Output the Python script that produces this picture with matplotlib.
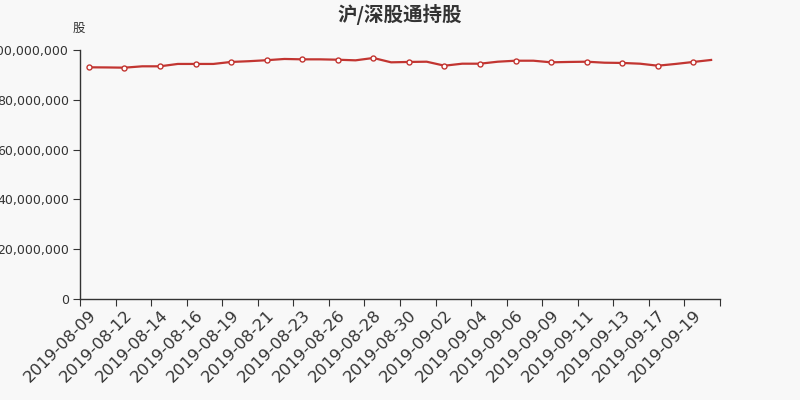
import matplotlib
matplotlib.use("Agg")
import matplotlib.pyplot as plt
from matplotlib.ticker import FuncFormatter

# trading dates (every category), labels shown on every other one
dates = ['2019-08-09', '2019-08-11', '2019-08-12', '2019-08-13', '2019-08-14', '2019-08-15',
         '2019-08-16', '2019-08-18', '2019-08-19', '2019-08-20', '2019-08-21', '2019-08-22',
         '2019-08-23', '2019-08-25', '2019-08-26', '2019-08-27', '2019-08-28', '2019-08-29',
         '2019-08-30', '2019-09-01', '2019-09-02', '2019-09-03', '2019-09-04', '2019-09-05',
         '2019-09-06', '2019-09-08', '2019-09-09', '2019-09-10', '2019-09-11', '2019-09-12',
         '2019-09-13', '2019-09-16', '2019-09-17', '2019-09-18', '2019-09-19', '2019-09-20']

# holdings in shares
holdings = [93.05e6, 93.0e6, 92.9e6, 93.45e6, 93.45e6, 94.4e6,
            94.4e6, 94.4e6, 95.2e6, 95.5e6, 95.9e6, 96.4e6,
            96.25e6, 96.25e6, 96.1e6, 95.85e6, 96.8e6, 95.05e6,
            95.2e6, 95.3e6, 93.7e6, 94.5e6, 94.5e6, 95.3e6,
            95.7e6, 95.7e6, 95.05e6, 95.2e6, 95.3e6, 94.9e6,
            94.8e6, 94.5e6, 93.7e6, 94.4e6, 95.2e6, 96.0e6]

bg = '#f8f8f8'
txt = '#333333'
red = '#c23531'

fig = plt.figure(figsize=(8, 4), dpi=100, facecolor=bg)
ax = fig.add_axes([0.1, 0.2525, 0.8, 0.6225], facecolor=bg)

x = list(range(len(dates)))
ax.plot(x, holdings, color=red, linewidth=1.6, marker='o', markevery=2,
        markersize=3.6, markerfacecolor='white', markeredgecolor=red, markeredgewidth=1)

ax.set_xlim(-0.5, len(dates) - 0.5)
ax.set_ylim(0, 100e6)
ax.set_yticks([0, 20e6, 40e6, 60e6, 80e6, 100e6])
ax.yaxis.set_major_formatter(FuncFormatter(lambda v, p: f'{int(v):,}'))

# ticks on category boundaries, labels on category centres
ax.set_xticks([i - 0.5 for i in range(0, len(dates) + 1, 2)])
ax.set_xticklabels([])
ax.set_xticks(x[::2], minor=True)
ax.set_xticklabels(dates[::2], minor=True, rotation=45, ha='right',
                   rotation_mode='anchor', fontsize=11.8, color=txt)
ax.tick_params(axis='x', which='minor', length=0, pad=6)
ax.tick_params(axis='x', which='major', length=5, color=txt)
ax.tick_params(axis='y', length=5, color=txt, labelsize=9, labelcolor=txt, pad=3)

for s in ['top', 'right']:
    ax.spines[s].set_visible(False)
for s in ['left', 'bottom']:
    ax.spines[s].set_color(txt)
    ax.spines[s].set_linewidth(1)

fig.text(0.5, 0.965, '沪/深股通持股', ha='center', va='center', fontsize=14,
         fontweight='bold', color=txt, family=['Noto Sans CJK SC', 'DejaVu Sans'])
fig.text(0.098, 0.928, '股', ha='center', va='center', fontsize=9,
         color=txt, family=['Noto Sans CJK SC', 'DejaVu Sans'])

fig.savefig('out.png', dpi=100, facecolor=bg)
